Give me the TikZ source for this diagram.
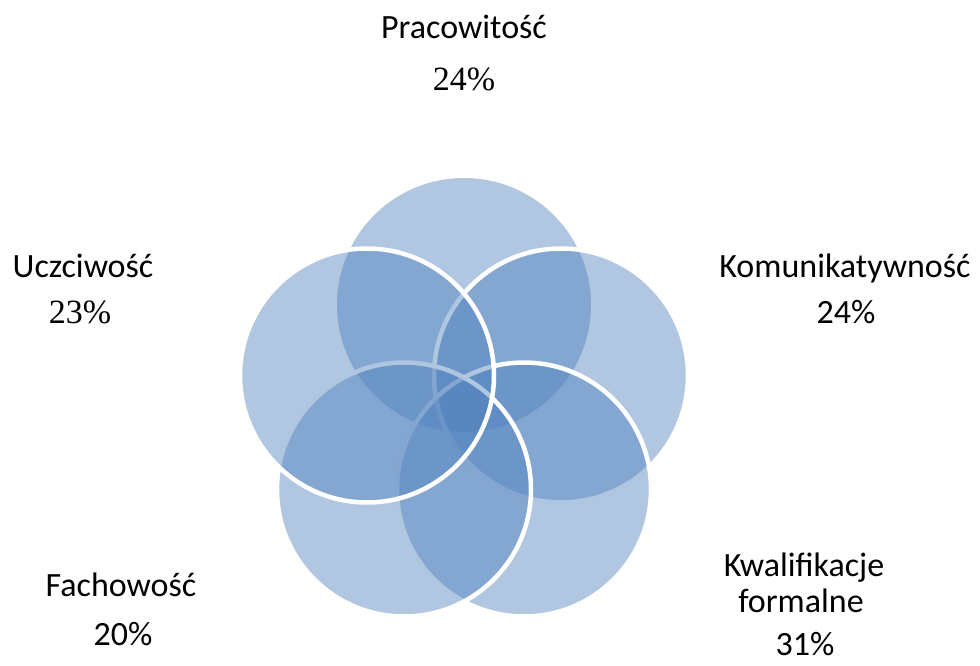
\documentclass[tikz,border=0pt]{standalone}
\usepackage{fontspec}
\setmainfont{Carlito}
\newfontfamily\serifnum{Liberation Serif}
\definecolor{vblue}{RGB}{79,129,189}
\begin{document}
\begin{tikzpicture}[x=1pt,y=-1pt,
  vc/.style={circle, fill=vblue, fill opacity=0.45, draw=white, line width=4.5pt, minimum size=254pt, inner sep=0},
  lbl/.style={font=\fontsize{34}{40}\selectfont, anchor=base, inner sep=0}]
\useasboundingbox (0,0) rectangle (980,666);
\node[vc, draw=none] (ctop) at (464,305) {};
\node[vc] (cright) at (561,375.5) {};
\node[vc] (cbr) at (524,489.5) {};
\node[vc] (cbl) at (404,489.5) {};
\node[vc] (cleft) at (367,375.5) {};
\node[lbl] (t1) at (464,39) {Pracowitość};
\node[lbl] (p1) at (464,91) {\serifnum 24\%};
\node[lbl] (t2) at (83,277) {Uczciwość};
\node[lbl] (p2) at (80,323) {\serifnum 23\%};
\node[lbl] (t3) at (845,277) {Komunikatywność};
\node[lbl] (p3) at (846,323) {24\%};
\node[lbl] (t4) at (121,596) {Fachowość};
\node[lbl] (p4) at (123,645) {20\%};
\node[lbl] (t5) at (804,576) {Kwalifikacje};
\node[lbl] (t5b) at (801,612) {formalne};
\node[lbl] (p5) at (805,655) {31\%};
\end{tikzpicture}
\end{document}
